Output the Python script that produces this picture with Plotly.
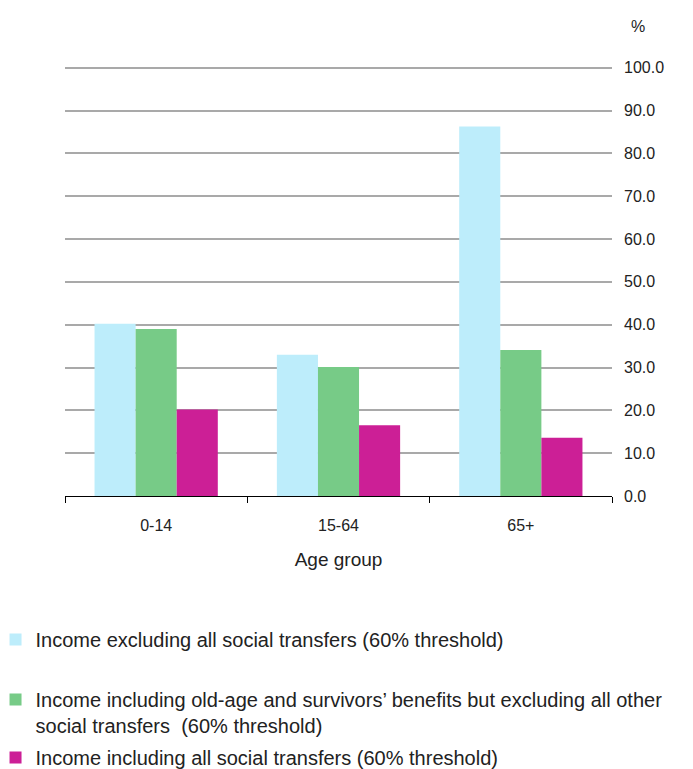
import plotly.graph_objects as go

categories = ["0-14", "15-64", "65+"]
series_names = [
    "Income excluding all social transfers (60% threshold)",
    "Income including old-age and survivors\u2019 benefits but excluding all other<br>social transfers  (60% threshold)",
    "Income including all social transfers (60% threshold)",
]
excl_all = [40.2, 33.0, 86.3]
incl_pensions = [39.0, 30.1, 34.1]
incl_all = [20.2, 16.5, 13.6]
colors = ["#bdedfb", "#77cb87", "#cc1f96"]
y_ticks = [0, 10, 20, 30, 40, 50, 60, 70, 80, 90, 100]

font = "Liberation Sans, Arial, sans-serif"
fig = go.Figure()
legends = ["legend", "legend2", "legend3"]
for name, vals, col, lg in zip(series_names, [excl_all, incl_pensions, incl_all], colors, legends):
    fig.add_trace(go.Bar(x=categories, y=vals, name=name, marker=dict(color=col, line=dict(width=0)),
                         legend=lg, showlegend=True))

leg_common = dict(font=dict(family=font, size=20, color="#222222"), bgcolor="rgba(0,0,0,0)",
                  xanchor="left", yanchor="top", itemsizing="constant", valign="top",
                  tracegroupgap=0, itemwidth=30)
fig.update_layout(
    width=685, height=761,
    margin=dict(l=57, r=81, t=58, b=273, autoexpand=False),
    paper_bgcolor="white", plot_bgcolor="white",
    barmode="group", bargap=0.324, bargroupgap=0,
    showlegend=True,
    font=dict(family=font, size=16, color="#222222"),
    xaxis=dict(type="category", showgrid=False, showline=True, linecolor="#000000", linewidth=1,
               ticks="outside", tickson="boundaries", ticklen=6, tickcolor="#000000",
               ticklabelstandoff=15, tickfont=dict(size=16),
               title=dict(text="Age group", font=dict(size=19), standoff=19)),
    yaxis=dict(side="right", range=[0, 100.4], tickvals=y_ticks, tickformat=".1f",
               showgrid=True, gridcolor="#a9a9a9", gridwidth=2, zeroline=False, showline=False,
               ticks="", ticklabelstandoff=11, tickfont=dict(size=16)),
    legend=dict(x=-0.127, y=-0.2883, **leg_common),
    legend2=dict(x=-0.127, y=-0.4279, **leg_common),
    legend3=dict(x=-0.127, y=-0.5628, **leg_common),
    annotations=[dict(text="%", xref="paper", yref="paper", x=1.0475, y=1.093, showarrow=False,
                      font=dict(size=16), xanchor="center", yanchor="middle")],
)
fig.write_html("out.html")
